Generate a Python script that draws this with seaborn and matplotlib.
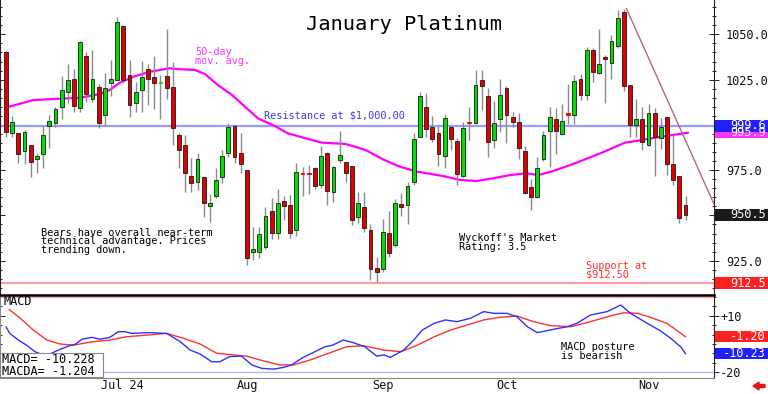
import numpy as np
import matplotlib
matplotlib.use("Agg")
import matplotlib.pyplot as plt
import matplotlib.transforms as mtransforms
from matplotlib.patches import Rectangle, FancyArrow
from matplotlib.ticker import MultipleLocator
import seaborn as sns

# ── Data ──────────────────────────────────────────────────────────────────────
opens = [1040.1, 995.7, 995.4, 985.6, 988.7, 981.3, 983.9, 999.4, 1001.2, 1009.7,
         1018.3, 1025.2, 1009.2, 1038.0, 1014.1, 1021.1, 1005.5, 1023.0, 1024.8, 1054.6,
         1027.6, 1012.3, 1019.3, 1030.7, 1026.6, 1023.0, 1027.0, 1021.1, 994.4, 988.9,
         971.8, 968.6, 971.4, 955.4, 960.7, 971.4, 984.6, 999.4, 984.3, 975.1,
         930.0, 930.0, 932.4, 952.5, 940.5, 958.1, 955.8, 942.0, 973.2, 973.4,
         976.0, 966.8, 984.3, 963.1, 980.6, 979.7, 977.3, 949.0, 954.5, 942.0,
         921.1, 920.3, 940.1, 933.7, 956.3, 955.8, 968.6, 993.5, 1009.7, 998.7,
         995.7, 982.8, 998.7, 991.3, 971.8, 1001.3, 1001.2, 1024.8, 1016.0, 991.7,
         1003.1, 1020.2, 1004.5, 1001.8, 985.6, 965.5, 960.4, 981.0, 996.8, 1003.1,
         995.0, 1005.9, 1005.5, 1025.2, 1016.5, 1041.4, 1028.8, 1037.7, 1034.3, 1043.6,
         1062.5, 1022.0, 999.9, 1003.1, 988.9, 1006.7, 992.6, 1004.5, 978.2, 971.9,
         955.8]
highs = [1041.0, 1004.9, 995.4, 997.2, 988.7, 984.6, 999.4, 1005.5, 1009.7, 1027.0,
         1033.6, 1030.7, 1046.5, 1040.4, 1041.4, 1022.6, 1028.8, 1035.8, 1059.7, 1055.2,
         1035.8, 1023.9, 1035.3, 1033.6, 1038.0, 1027.6, 1053.1, 1034.9, 995.4, 994.4,
         981.6, 984.3, 971.4, 961.8, 976.0, 986.1, 1000.9, 999.8, 995.4, 975.1,
         943.8, 943.8, 954.8, 959.5, 964.4, 960.7, 961.3, 978.8, 977.0, 978.0,
         976.9, 988.3, 985.2, 977.5, 996.8, 979.7, 977.3, 963.1, 963.1, 945.3,
         927.2, 947.9, 952.6, 958.9, 962.6, 968.6, 995.4, 1018.3, 1017.8, 1004.9,
         999.4, 1006.0, 999.9, 992.6, 1001.8, 1010.0, 1030.3, 1030.3, 1020.2, 1013.4,
         1025.2, 1021.5, 1007.3, 1006.7, 988.3, 970.0, 982.4, 996.8, 1010.0, 1009.2,
         1011.5, 1022.6, 1027.6, 1028.1, 1043.2, 1042.3, 1052.8, 1038.6, 1049.6, 1063.4,
         1063.8, 1022.0, 1014.1, 1009.7, 1011.5, 1009.2, 1003.6, 1005.0, 994.4, 971.9,
         960.7]
lows = [993.5, 993.2, 979.1, 978.4, 971.4, 973.3, 976.0, 987.4, 998.7, 1003.1,
        1012.3, 1007.3, 1007.3, 1012.8, 1012.8, 998.1, 999.4, 1016.0, 1024.0, 1023.3,
        1004.2, 1007.3, 1007.3, 1011.0, 1008.6, 1003.4, 1014.1, 988.9, 976.0, 963.1,
        963.1, 964.1, 949.3, 946.5, 959.5, 968.1, 982.4, 978.8, 973.3, 922.6,
        925.4, 926.3, 931.3, 936.8, 936.8, 947.5, 937.4, 938.7, 960.5, 962.0,
        964.4, 965.0, 955.8, 957.6, 979.0, 968.6, 944.7, 946.0, 941.0, 914.4,
        913.4, 918.9, 926.9, 932.4, 949.7, 945.3, 966.8, 993.2, 993.2, 990.7,
        977.3, 976.0, 986.1, 966.8, 971.1, 991.7, 1000.5, 1008.2, 982.4, 987.1,
        996.2, 989.8, 999.0, 981.0, 961.8, 953.0, 959.5, 980.2, 976.9, 983.9,
        994.4, 1000.5, 1000.5, 1013.7, 1013.7, 1023.9, 1028.1, 1012.3, 1025.2, 1042.3,
        1018.9, 993.2, 993.2, 986.1, 988.3, 971.8, 986.5, 972.3, 966.8, 945.7,
        947.5]
closes = [995.9, 1001.8, 983.9, 995.9, 979.5, 983.0, 994.6, 1002.3, 1008.8, 1019.3,
          1024.8, 1010.4, 1045.8, 1017.1, 1025.2, 1000.9, 1020.2, 1025.2, 1056.7, 1024.8,
          1010.8, 1018.0, 1026.3, 1025.2, 1023.3, 1023.9, 1020.2, 998.5, 986.1, 973.3,
          967.8, 981.2, 957.0, 956.7, 969.6, 982.8, 998.7, 982.1, 978.4, 926.3,
          931.3, 939.8, 949.7, 940.5, 956.7, 955.4, 940.1, 974.2, 972.8, 973.0,
          966.0, 982.8, 963.7, 976.6, 983.4, 973.6, 947.5, 956.7, 942.9, 920.3,
          918.9, 941.0, 929.4, 957.0, 954.5, 966.3, 992.0, 1016.1, 997.6, 992.0,
          983.9, 1003.6, 992.0, 972.9, 998.1, 1001.0, 1022.0, 1021.5, 990.7, 1000.9,
          1016.5, 1005.5, 1001.8, 987.1, 962.2, 960.0, 976.0, 994.4, 1004.2, 996.8,
          1002.3, 1005.7, 1024.4, 1016.5, 1041.4, 1029.4, 1033.6, 1036.4, 1046.5, 1058.9,
          1021.5, 999.9, 1003.1, 990.7, 1006.4, 993.2, 999.0, 978.4, 969.6, 948.4,
          950.5]

# 50-day moving average
ma_idx = [0.1, 4.4, 7.6, 12.0, 15.2, 16.8, 18.4, 20.6, 23.3, 26.5, 27.7, 30.6, 32.2,
          34.3, 36.6, 38.7, 40.8, 43.5, 45.6, 47.9, 51.1, 54.9, 56.5, 58.4, 61.0, 63.8,
          66.5, 70.7, 73.5, 76.2, 78.8, 81.6, 84.3, 86.1, 88.3, 92.1, 96.4, 100.2,
          102.3, 105.5, 110.4]
ma_val = [1009.7, 1013.7, 1014.3, 1015.0, 1017.1, 1019.3, 1023.3, 1026.6, 1029.4,
          1031.3, 1030.9, 1030.3, 1028.1, 1022.0, 1016.5, 1010.0, 1003.6, 999.4, 995.4,
          993.2, 990.2, 989.5, 988.0, 985.8, 981.0, 976.9, 974.2, 971.8, 969.6, 969.0,
          970.5, 972.3, 973.3, 972.3, 974.2, 978.8, 984.6, 990.2, 991.3, 993.2, 995.7]

trend_idx = [100.4, 114.6]
trend_val = [1064.4, 956.3]

resistance = 999.6
support = 912.5

# MACD (blue) and MACDA signal (red)
macd_idx = [0.0, 0.6, 2.0, 3.3, 4.7, 6.0, 7.1, 8.5, 10.1, 11.2, 12.3, 13.9, 15.2, 16.8,
            18.2, 19.3, 20.3, 23.3, 26.0, 28.2, 29.8, 31.4, 33.3, 34.6, 36.2, 38.1, 39.8,
            41.4, 43.3, 44.9, 46.2, 48.1, 50.0, 51.6, 52.9, 54.6, 56.2, 58.1, 60.0, 61.2,
            62.2, 64.4, 66.0, 67.4, 69.3, 71.1, 73.0, 75.2, 77.3, 79.0, 81.1, 82.7, 84.4,
            86.0, 88.7, 90.8, 92.4, 94.6, 97.3, 99.5, 101.1, 103.8, 105.9, 107.6, 109.2,
            110.0]
macd_val = [4.1, 0.6, -2.9, -5.6, -9.1, -10.8, -10.3, -8.2, -6.1, -5.2, -2.5, -1.5, -2.5,
            -1.5, 1.5, 1.5, 0.6, 1.0, 0.6, -3.8, -8.2, -10.3, -14.4, -14.4, -11.7, -11.4,
            -16.1, -17.9, -18.3, -17.4, -16.1, -12.1, -9.1, -6.5, -5.6, -2.9, -4.3, -6.5,
            -11.4, -10.8, -12.1, -8.2, -2.9, 2.4, 5.9, 7.7, 6.8, 8.6, 12.1, 11.2, 11.2, 9.4,
            4.1, 1.0, 2.8, 4.1, 5.9, 10.3, 12.1, 15.6, 11.2, 5.9, 2.0, -2.0, -6.5, -10.228]
sig_idx = [0.5, 2.3, 4.4, 6.6, 8.7, 10.9, 14.1, 16.8, 19.5, 22.8, 26.0, 28.7, 31.4, 34.1,
           36.8, 38.9, 41.6, 44.3, 46.5, 49.2, 51.9, 55.1, 57.8, 61.1, 63.9, 66.6, 69.3,
           72.0, 74.6, 77.3, 80.0, 82.7, 85.4, 88.1, 91.4, 94.6, 97.8, 100.0, 102.2,
           104.3, 107.0, 110.0]
sig_val = [13.3, 8.6, 2.4, -2.9, -5.0, -5.6, -3.8, -2.9, -1.2, -0.3, 0.6, -2.0, -5.0,
           -9.9, -10.8, -11.4, -13.9, -16.1, -16.1, -13.5, -10.3, -6.5, -5.9, -8.2, -9.1,
           -5.6, -1.2, 2.4, 5.0, 7.7, 9.1, 9.8, 6.8, 4.7, 4.1, 6.8, 9.8, 11.5, 11.2, 9.1,
           5.9, -1.204]

month_idx = [15, 37, 59, 79, 102]
month_labels = ["Jul 24", "Aug", "Sep", "Oct", "Nov"]

price_ticks = [925, 950, 975, 1000, 1025, 1050]
price_tick_labels = ["925.0", "", "975.0", "", "1025.0", "1050.0"]  # 950/1000 sit under value boxes
macd_ticks = [10, -20]
macd_tick_labels = ["+10", "-20"]

# ── Style ─────────────────────────────────────────────────────────────────────
sns.set_style("white")
plt.rcParams["font.family"] = ["DejaVu Sans Mono", "DejaVu Sans"]

W, H = 768, 394
fig = plt.figure(figsize=(W / 100, H / 100), dpi=100)
fig.patch.set_facecolor("white")


def fx(x):
    return x / W


def fy(y):
    return 1 - y / H


ax = fig.add_axes([0, fy(294), fx(714), 294 / H])
ax2 = fig.add_axes([0, fy(378), fx(714), 83 / H])

# ── Price panel ───────────────────────────────────────────────────────────────
o = np.array(opens)
h = np.array(highs)
l = np.array(lows)
c = np.array(closes)
idx = np.arange(len(o))
up = c >= o
tiny = np.abs(c - o) < 1.0

ax.axhline(resistance, color="#9a9aff", lw=1.6, zorder=1)
ax.axhline(support, color="#ffa0a0", lw=1.6, zorder=1)
sns.lineplot(x=ma_idx, y=ma_val, ax=ax, color="#ff00ff", lw=1.6, zorder=1.5)

ax.vlines(idx, l, h, color="#8a8a8a", lw=1.0, zorder=2)
face = np.where(up, "#00dd00", "#e00000")
edge = np.where(tiny, face, "#1a1a1a")
ax.bar(idx, np.maximum(np.abs(c - o), 0.7), bottom=np.minimum(o, c), width=0.62,
       color=face, edgecolor=edge, linewidth=0.6, zorder=3)

sns.lineplot(x=trend_idx, y=trend_val, ax=ax, color="#b06a88", lw=1.0, zorder=4)

ax.set_xlim(-0.97, 114.6)
ax.set_ylim(906.6, 1069.0)
ax.set_xticks([])
ax.set_xlabel("")
ax.set_ylabel("")
ax.set_yticks(price_ticks)
ax.set_yticklabels(price_tick_labels)
ax.yaxis.set_minor_locator(MultipleLocator(5))
ax.tick_params(axis="y", which="both", left=True, right=True, labelleft=False,
               labelright=True, direction="inout", width=0.7, colors="#222222",
               labelcolor="#111111", labelsize=8.6, pad=5)
ax.tick_params(axis="y", which="major", length=7)
ax.tick_params(axis="y", which="minor", length=3)
for side in ["top", "bottom"]:
    ax.spines[side].set_visible(False)
for side in ["left", "right"]:
    ax.spines[side].set_color("#222222")
    ax.spines[side].set_linewidth(0.8)

# ── MACD panel ────────────────────────────────────────────────────────────────
ax2.axhline(20, color="#ffa0a0", lw=0.9)
ax2.axhline(-20, color="#b0b0ff", lw=0.9)
sns.lineplot(x=sig_idx, y=sig_val, ax=ax2, color="#ff3030", lw=1.0)
sns.lineplot(x=macd_idx, y=macd_val, ax=ax2, color="#3030ff", lw=1.0)
ax2.set_xlim(-0.97, 114.6)
ax2.set_ylim(-23.0, 20.9)
ax2.set_xlabel("")
ax2.set_ylabel("")
ax2.set_yticks(macd_ticks)
ax2.set_yticklabels(macd_tick_labels)
ax2.yaxis.set_minor_locator(MultipleLocator(5))
ax2.tick_params(axis="y", which="both", left=True, right=True, labelleft=False,
                labelright=True, direction="inout", width=0.7, colors="#222222",
                labelcolor="#111111", labelsize=8.6, pad=1)
ax2.tick_params(axis="y", which="major", length=7)
ax2.tick_params(axis="y", which="minor", length=3)
ax2.set_xticks(month_idx)
ax2.set_xticklabels(month_labels, ha="left")
ax2.tick_params(axis="x", direction="out", length=14, width=0.8, color="#808080",
                labelsize=8.6, labelcolor="#111111", pad=-13.5)
shift = mtransforms.ScaledTranslation(2 / 100, 0, fig.dpi_scale_trans)
for lbl in ax2.get_xticklabels():
    lbl.set_transform(lbl.get_transform() + shift)
ax2.spines["top"].set_color("black")
ax2.spines["top"].set_linewidth(1.8)
for side in ["left", "bottom"]:
    ax2.spines[side].set_color("#888888")
    ax2.spines[side].set_linewidth(0.8)
ax2.spines["right"].set_color("#222222")
ax2.spines["right"].set_linewidth(0.8)

# ── Right-hand value boxes ────────────────────────────────────────────────────
def value_box(axis, val, text, color, px_h, units_per_px):
    tr = mtransforms.blended_transform_factory(fig.transFigure, axis.transData)
    hh = px_h * units_per_px
    fig.add_artist(Rectangle((fx(715), val - hh / 2), fx(53), hh, transform=tr,
                             facecolor=color, edgecolor="none", clip_on=False))
    fig.text(fx(766), val, text, transform=tr, ha="right", va="center",
             color="white", fontsize=8.6)


p_unit = 1 / 1.811
m_unit = 1 / 1.89
value_box(ax, 995.9, "995.9", "#ff33ff", 12, p_unit)
value_box(ax, 999.6, "999.6", "#1f1fff", 12, p_unit)
value_box(ax, 950.5, "950.5", "#1a1a1a", 12, p_unit)
value_box(ax, 912.5, "912.5", "#ff2020", 12, p_unit)
value_box(ax2, -1.204, "-1.20", "#ff2020", 11, m_unit)
value_box(ax2, -10.228, "-10.23", "#2020ff", 11, m_unit)

# ── Text annotations ──────────────────────────────────────────────────────────
fig.text(fx(403.5), fy(25), "January Platinum", ha="center", va="center",
         fontsize=14.7, color="black")
fig.text(fx(195), fy(56.7), "50-day\nmov. avg.", ha="left", va="center",
         fontsize=7.4, color="#ff33ff", linespacing=0.85)
fig.text(fx(264), fy(115.3), "Resistance at $1,000.00", ha="left", va="center",
         fontsize=7.4, color="#3a3aff")
fig.text(fx(41), fy(241.3), "Bears have overall near-term\ntechnical advantage. Prices\ntrending down.",
         ha="left", va="center", fontsize=7.4, color="black", linespacing=0.85)
fig.text(fx(459), fy(242.3), "Wyckoff's Market\nRating: 3.5", ha="left", va="center",
         fontsize=7.4, color="black", linespacing=0.85)
fig.text(fx(586), fy(270), "Support at\n$912.50", ha="left", va="center",
         fontsize=7.4, color="#ff3030", linespacing=0.85)
fig.text(fx(561), fy(351.3), "MACD posture\nis bearish", ha="left", va="center",
         fontsize=7.4, color="black", linespacing=0.85)
fig.text(fx(3), fy(301.7), "MACD", ha="left", va="center", fontsize=8.6, color="black")

fig.add_artist(Rectangle((0, fy(376.7)), fx(103), 24 / H, transform=fig.transFigure,
                         facecolor="white", edgecolor="#888888", lw=0.8))
fig.text(fx(2), fy(365.5), "MACD= -10.228\nMACDA= -1.204", ha="left", va="center",
         fontsize=8.6, color="black", linespacing=0.85)

fig.add_artist(FancyArrow(fx(765), fy(386), -fx(12), 0, width=3 / H, head_width=8 / H,
                          head_length=fx(6), length_includes_head=True,
                          transform=fig.transFigure, color="#ee1111"))

fig.savefig("out.png", dpi=100)
